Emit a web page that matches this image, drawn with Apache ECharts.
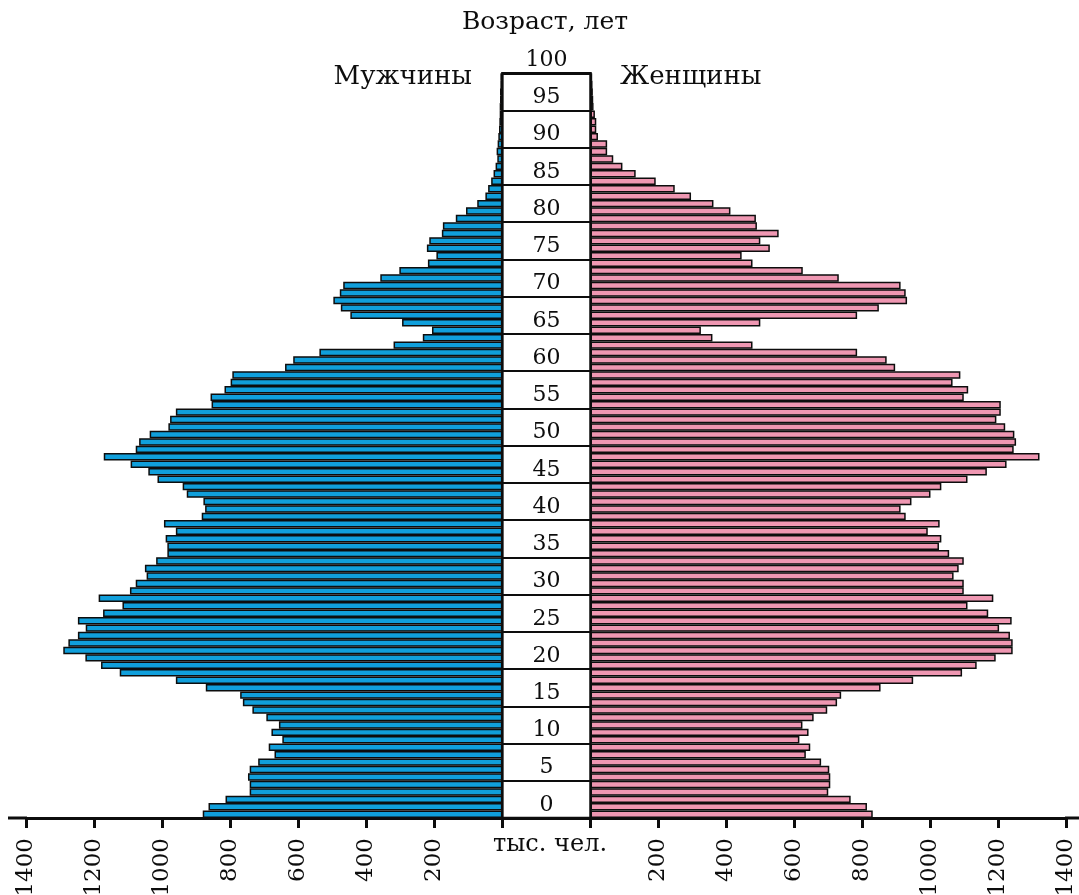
<!DOCTYPE html>
<html>
<head>
<meta charset="utf-8">
<script src="https://cdn.jsdelivr.net/npm/echarts@6/dist/echarts.min.js"></script>
<style>html,body{margin:0;padding:0;background:#fff}#c{width:1079px;height:895px}</style>
</head>
<body>
<div id="c"></div>
<script>
// Ages (years), bottom to top
const ages = [0,1,2,3,4,5,6,7,8,9,10,11,12,13,14,15,16,17,18,19,20,21,22,23,24,25,26,27,28,29,
  30,31,32,33,34,35,36,37,38,39,40,41,42,43,44,45,46,47,48,49,50,51,52,53,54,55,56,57,58,59,
  60,61,62,63,64,65,66,67,68,69,70,71,72,73,74,75,76,77,78,79,80,81,82,83,84,85,86,87,88,89,
  90,91,92,93,94,95,96,97,98,99];
// Men, thousand persons
const men = [881,864,814,743,743,748,743,718,670,687,
  647,679,657,694,735,763,771,872,960,1125,
  1180,1226,1291,1276,1248,1225,1248,1174,1117,1187,
  1095,1078,1046,1051,1018,985,985,990,960,995,
  884,874,879,928,940,1014,1041,1093,1172,1078,
  1068,1037,982,977,960,855,858,817,799,794,
  639,615,538,320,234,207,295,447,475,497,
  478,468,359,303,219,194,222,215,178,175,
  137,107,74,50,42,33,26,20,15,17,
  14,12,10,9,8,8,7,7,6,6];
// Women, thousand persons
const women = [831,814,766,700,706,706,703,679,634,647,
  615,642,624,657,697,726,738,854,950,1094,
  1137,1193,1243,1243,1235,1203,1240,1171,1110,1186,
  1099,1099,1069,1084,1099,1056,1026,1033,993,1028,
  928,913,945,1001,1033,1110,1167,1225,1322,1246,
  1253,1248,1221,1195,1208,1208,1099,1112,1066,1089,
  897,872,785,477,359,325,500,785,849,932,
  928,913,731,625,477,445,528,500,554,490,
  487,412,362,296,248,192,133,94,67,49,
  49,22,17,17,13,9,8,7,6,5];
// Tick labels
const valueTicks = [0,200,400,600,800,1000,1200,1400];
const ageTicks = [0,5,10,15,20,25,30,35,40,45,50,55,60,65,70,75,80,85,90,95,100];

const SERIF = '"DejaVu Serif", "Liberation Serif", serif';
const INK = '#0d0d0d';
const TOP = 73.3, H = 744.7, BASE = TOP + H;

const chart = echarts.init(document.getElementById('c'), null, {renderer: 'canvas'});

const valAxisCommon = {
  type: 'value', min: valueTicks[0], max: valueTicks[valueTicks.length - 1], interval: 200,
  splitLine: {show: false},
  axisLine: {show: true, onZero: false, lineStyle: {color: INK, width: 3}},
  axisTick: {show: true, length: 10, lineStyle: {color: INK, width: 3}},
  axisLabel: {
    rotate: 90, margin: 20, fontFamily: SERIF, fontSize: 23, color: INK,
    formatter: v => (v === 0 ? '' : String(v))
  }
};

const gridCommon = {top: TOP, height: H, containLabel: false, outerBoundsMode: 'none'};

chart.setOption({
  animation: false,
  grid: [
    Object.assign({left: 26.2, width: 476.2}, gridCommon),
    Object.assign({left: 590.5, width: 475.5}, gridCommon),
    Object.assign({left: 502.4, width: 88.1, show: true, borderColor: INK, borderWidth: 2.5,
      backgroundColor: 'transparent'}, gridCommon)
  ],
  xAxis: [
    Object.assign({}, valAxisCommon, {gridIndex: 0, inverse: true}),
    Object.assign({}, valAxisCommon, {gridIndex: 1}),
    {gridIndex: 2, type: 'value', min: 0, max: 1, show: true,
     axisLine: {show: true, onZero: false, lineStyle: {color: INK, width: 3}},
     axisTick: {show: false}, axisLabel: {show: false}, splitLine: {show: false}}
  ],
  yAxis: [
    {gridIndex: 0, type: 'category', data: ages, show: false},
    {gridIndex: 1, type: 'category', data: ages, show: false},
    {gridIndex: 2, type: 'value', min: ageTicks[0], max: ageTicks[ageTicks.length - 1], interval: 5,
     show: true, z: 10,
     axisLine: {show: false}, axisTick: {show: false},
     splitLine: {show: true, lineStyle: {color: INK, width: 2}},
     axisLabel: {show: true, inside: true, margin: 44, align: 'center', verticalAlign: 'bottom', lineHeight: 26,
       fontFamily: SERIF, fontSize: 22, color: INK,
       formatter: v => String(v)}}
  ],
  series: [
    {type: 'bar', name: 'Мужчины', xAxisIndex: 0, yAxisIndex: 0, data: men,
     barCategoryGap: '0%', itemStyle: {color: '#109fdb', borderColor: INK, borderWidth: 1.5}},
    {type: 'bar', name: 'Женщины', xAxisIndex: 1, yAxisIndex: 1, data: women,
     barCategoryGap: '0%', itemStyle: {color: '#ef97b2', borderColor: INK, borderWidth: 1.5}}
  ],
  graphic: [
    {type: 'line', shape: {x1: 8, y1: BASE, x2: 27, y2: BASE}, style: {stroke: INK, lineWidth: 3}},
    {type: 'line', shape: {x1: 1065, y1: BASE, x2: 1079, y2: BASE}, style: {stroke: INK, lineWidth: 3}},
    {type: 'text', x: 545, y: 22, style: {text: 'Возраст, лет', font: '25px ' + SERIF, fill: INK, align: 'center', verticalAlign: 'middle'}},
    {type: 'text', x: 472, y: 77, style: {text: 'Мужчины', font: '26px ' + SERIF, fill: INK, align: 'right', verticalAlign: 'middle'}},
    {type: 'text', x: 620, y: 77, style: {text: 'Женщины', font: '26px ' + SERIF, fill: INK, align: 'left', verticalAlign: 'middle'}},
    {type: 'text', x: 550, y: 845, style: {text: 'тыс. чел.', font: '24px ' + SERIF, fill: INK, align: 'center', verticalAlign: 'middle'}}
  ]
});
</script>
</body>
</html>
